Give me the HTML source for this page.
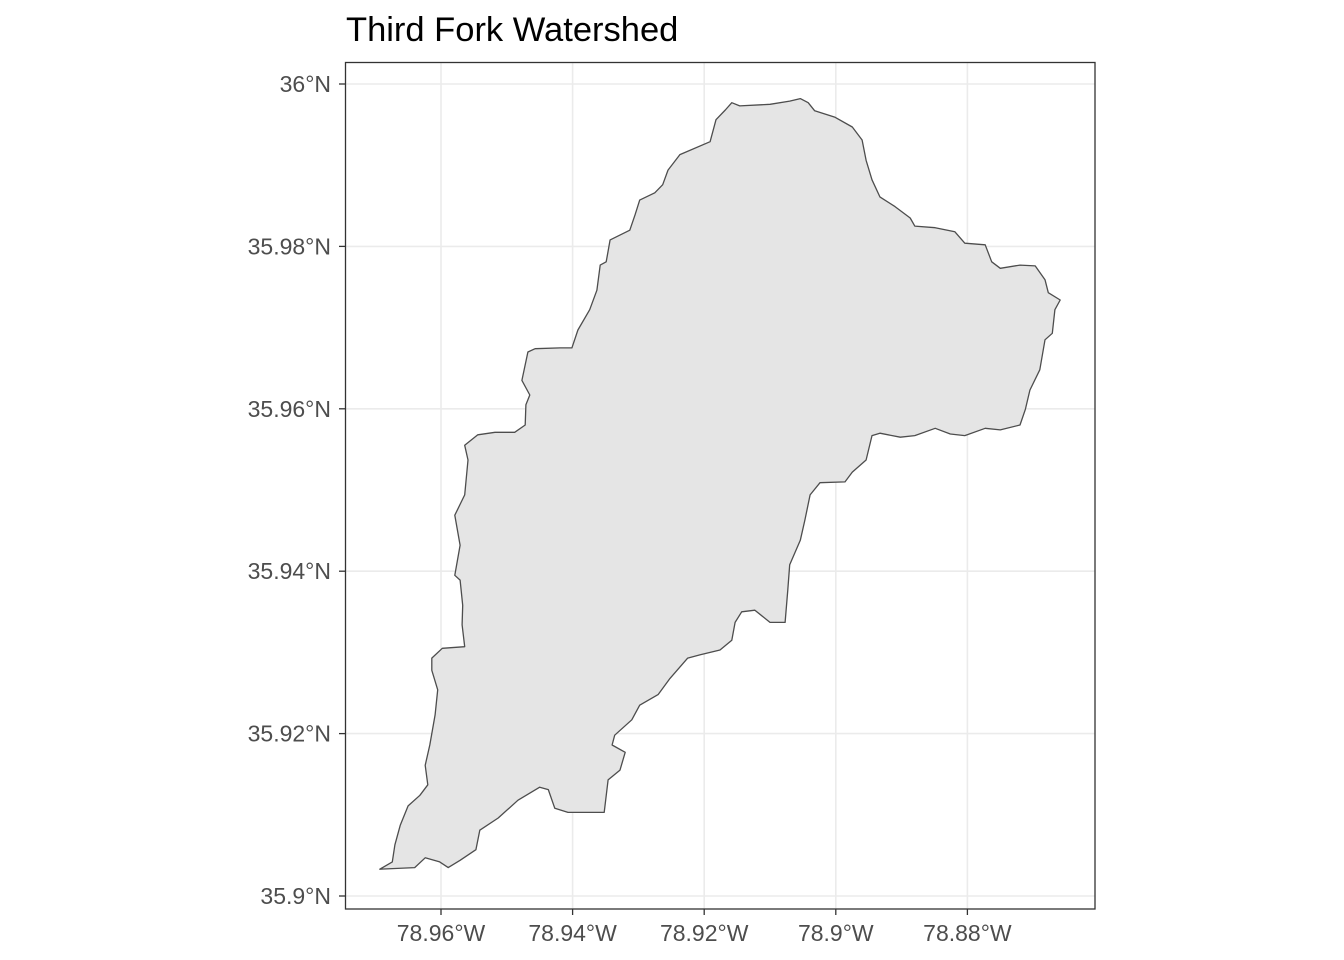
<!DOCTYPE html>
<html><head><meta charset="utf-8"><style>
html,body{margin:0;padding:0;background:#fff;}
svg{display:block;font-family:"Liberation Sans",Arial,sans-serif;}
</style></head><body>
<svg id="chart" width="1344" height="960" viewBox="0 0 1344 960">
<rect x="0" y="0" width="1344" height="960" fill="#fff"/>
<text x="346" y="41" font-size="34.5" fill="#000">Third Fork Watershed</text>
<g id="grid"></g>
<g id="shape"></g>
<rect x="345.5" y="62.5" width="749.5" height="846.5" fill="none" stroke="#333" stroke-width="1.3"/>
<g id="axes"></g>
</svg>
<script>
const xTicks = [-78.96, -78.94, -78.92, -78.90, -78.88];
const xTickLabels = ["78.96°W","78.94°W","78.92°W","78.9°W","78.88°W"];
const yTicks = [36.00, 35.98, 35.96, 35.94, 35.92, 35.90];
const yTickLabels = ["36°N","35.98°N","35.96°N","35.94°N","35.92°N","35.9°N"];
const lons = [-78.9158,-78.9146,-78.9100,-78.9070,-78.9054,-78.9042,-78.9032,-78.9001,-78.8975,-78.8960,-78.8954,-78.8945,-78.8933,-78.8910,-78.8887,-78.8880,-78.8849,-78.8819,-78.8804,-78.8773,-78.8763,-78.8750,-78.8720,-78.8697,-78.8682,-78.8677,-78.8659,-78.8667,-78.8671,-78.8682,-78.8690,-78.8705,-78.8712,-78.8720,-78.8750,-78.8773,-78.8804,-78.8826,-78.8849,-78.8880,-78.8902,-78.8933,-78.8945,-78.8954,-78.8975,-78.8986,-78.9024,-78.9039,-78.9047,-78.9054,-78.9070,-78.9073,-78.9077,-78.9100,-78.9123,-78.9143,-78.9153,-78.9158,-78.9176,-78.9206,-78.9225,-78.9252,-78.9270,-78.9298,-78.9310,-78.9336,-78.9340,-78.9320,-78.9328,-78.9346,-78.9352,-78.9407,-78.9427,-78.9437,-78.9450,-78.9483,-78.9513,-78.9541,-78.9547,-78.9571,-78.9589,-78.9602,-78.9624,-78.9640,-78.9693,-78.9674,-78.9670,-78.9662,-78.9650,-78.9632,-78.9620,-78.9624,-78.9617,-78.9609,-78.9605,-78.9614,-78.9614,-78.9598,-78.9564,-78.9568,-78.9567,-78.9571,-78.9579,-78.9571,-78.9579,-78.9564,-78.9559,-78.9564,-78.9544,-78.9518,-78.9488,-78.9472,-78.9471,-78.9465,-78.9477,-78.9468,-78.9457,-78.9419,-78.9401,-78.9392,-78.9374,-78.9363,-78.9358,-78.9349,-78.9343,-78.9313,-78.9305,-78.9298,-78.9275,-78.9263,-78.9255,-78.9237,-78.9191,-78.9182,-78.9168];
const lats = [35.9977,35.9973,35.9975,35.9979,35.9982,35.9977,35.9967,35.9959,35.9947,35.9931,35.9906,35.9882,35.9861,35.9849,35.9835,35.9825,35.9823,35.9818,35.9804,35.9802,35.9781,35.9773,35.9777,35.9776,35.9759,35.9743,35.9734,35.9722,35.9693,35.9685,35.9648,35.9623,35.9599,35.9580,35.9574,35.9576,35.9567,35.9569,35.9576,35.9567,35.9565,35.9570,35.9567,35.9537,35.9522,35.9510,35.9509,35.9494,35.9463,35.9438,35.9408,35.9377,35.9337,35.9337,35.9352,35.9350,35.9337,35.9315,35.9303,35.9297,35.9293,35.9268,35.9248,35.9235,35.9217,35.9198,35.9186,35.9177,35.9155,35.9143,35.9103,35.9103,35.9108,35.9131,35.9134,35.9118,35.9096,35.9081,35.9057,35.9044,35.9035,35.9042,35.9047,35.9035,35.9033,35.9042,35.9063,35.9087,35.9111,35.9124,35.9137,35.9161,35.9186,35.9223,35.9254,35.9278,35.9293,35.9305,35.9307,35.9334,35.9358,35.9389,35.9395,35.9432,35.9469,35.9494,35.9537,35.9555,35.9568,35.9571,35.9571,35.9580,35.9605,35.9617,35.9635,35.9670,35.9674,35.9675,35.9675,35.9697,35.9722,35.9746,35.9777,35.9781,35.9808,35.9820,35.9839,35.9857,35.9866,35.9876,35.9894,35.9913,35.9929,35.9956,35.9968];

const NS = "http://www.w3.org/2000/svg";
function X(lon){ return 441 + (lon + 78.96) / 0.02 * 131.6; }
function Y(lat){ return 84 + (36 - lat) / 0.02 * 162.4; }
function mk(tag, attrs, parent){ const e = document.createElementNS(NS, tag); for (const k in attrs) e.setAttribute(k, attrs[k]); parent.appendChild(e); return e; }

const grid = document.getElementById('grid');
const axes = document.getElementById('axes');
xTicks.forEach((t, i) => {
  const x = X(t);
  const g = mk('line', {x1:x, x2:x, y1:63, y2:909, stroke:'#ebebeb', 'stroke-width':1.6}, grid);
  
  
  const tk = mk('line', {x1:x, x2:x, y1:909, y2:915, stroke:'#333', 'stroke-width':1.3}, axes);
  
  
  const lb = mk('text', {x:x, y:941, 'font-size':23, fill:'#4d4d4d', 'text-anchor':'middle'}, axes);
  lb.textContent = xTickLabels[i];
  
  
});
yTicks.forEach((t, i) => {
  const y = Y(t);
  const g = mk('line', {x1:346, x2:1095, y1:y, y2:y, stroke:'#ebebeb', 'stroke-width':1.6}, grid);
  
  
  const tk = mk('line', {x1:339, x2:346, y1:y, y2:y, stroke:'#333', 'stroke-width':1.3}, axes);
  
  
  const lb = mk('text', {x:331, y:y + 8, 'font-size':23, fill:'#4d4d4d', 'text-anchor':'end'}, axes);
  lb.textContent = yTickLabels[i];
  
  
});
const pts = lons.map((lo, i) => X(lo).toFixed(1) + ',' + Y(lats[i]).toFixed(1)).join(' ');
const poly = mk('polygon', {points:pts, fill:'#e5e5e5', stroke:'#4d4d4d', 'stroke-width':1.3, 'stroke-linejoin':'round'}, document.getElementById('shape'));


</script>
</body></html>
